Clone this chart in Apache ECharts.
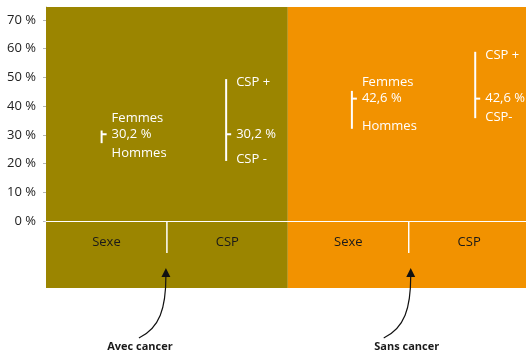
<!DOCTYPE html>
<html>
<head>
<meta charset="utf-8">
<script src="https://cdn.jsdelivr.net/npm/echarts@6/dist/echarts.min.js"></script>
<style>
  html, body { margin: 0; padding: 0; background: #fff; }
  #chart { width: 526px; height: 354px; }
</style>
</head>
<body>
<div id="chart"></div>
<script>
// données
const groups = ['Avec cancer', 'Sans cancer'];
const facets = ['Sexe', 'CSP'];
const groupColors = ['#9b8500', '#f29200'];
const midValues = [30.2, 30.2, 42.6, 42.6];
const highValues = [31.5, 49.4, 45.3, 58.9];
const lowValues = [27.1, 20.9, 32.1, 35.8];
const highLabels = ['Femmes', 'CSP +', 'Femmes', 'CSP +'];
const lowLabels = ['Hommes', 'CSP -', 'Hommes', 'CSP-'];
const yTicks = [0, 10, 20, 30, 40, 50, 60, 70];

// mise en page
const barSlots = [0.46, 1.49, 2.53, 3.55];
const arrowLabelShift = [-26, -4];
const X_MAX = 3.97;
const FONT = '"Open Sans", "DejaVu Sans", sans-serif';

const chart = echarts.init(document.getElementById('chart'));

function fmt(v) {
	return String(v).replace('.', ',') + ' %';
}

function renderPanels(params, api) {
	const g = params.dataIndex;
	const p0 = api.coord([g * 2, api.value(2)]);
	const p1 = api.coord([g * 2 + 2, 0]);
	return {
		type: 'rect',
		shape: { x: p0[0], y: p0[1], width: p1[0] - p0[0], height: p1[1] - p0[1] },
		style: { fill: groupColors[g] }
	};
}

function renderBands(params, api) {
	const g = params.dataIndex;
	const top = api.coord([g * 2, 1]);
	const bottom = api.coord([g * 2 + 2, 0]);
	const mid = api.coord([g * 2 + 1, 1]);
	const children = [
		{ type: 'rect', shape: { x: top[0], y: top[1], width: bottom[0] - top[0], height: bottom[1] - top[1] }, style: { fill: groupColors[g] } },
		{ type: 'line', shape: { x1: mid[0], y1: top[1], x2: mid[0], y2: top[1] + 32 }, style: { stroke: '#fff', lineWidth: 1.5 } }
	];
	facets.forEach(function (f, k) {
		const c = api.coord([g * 2 + k + 0.5, 1]);
		children.push({
			type: 'text',
			style: { text: f, x: c[0], y: c[1] + 21, fill: '#1a1a1a', font: '13px ' + FONT, align: 'center', verticalAlign: 'middle' }
		});
	});
	return { type: 'group', children: children };
}

function renderRange(params, api) {
	const i = params.dataIndex;
	const x = api.coord([api.value(0), 0])[0];
	const yLo = api.coord([0, api.value(1)])[1];
	const yHi = api.coord([0, api.value(2)])[1];
	const yMid = api.coord([0, api.value(3)])[1];
	const yTop = Math.min(yHi + 3, yMid - 16);
	const yBot = Math.max(yLo - 2, yMid + 19);
	const txt = { fill: '#fff', font: '13px ' + FONT, align: 'left', verticalAlign: 'middle' };
	return {
		type: 'group',
		children: [
			{ type: 'rect', shape: { x: x - 1, y: yHi, width: 2, height: yLo - yHi }, style: { fill: '#fff' } },
			{ type: 'rect', shape: { x: x, y: yMid - 1, width: 5, height: 2 }, style: { fill: '#fff' } },
			{ type: 'text', style: Object.assign({ text: highLabels[i], x: x + 10, y: yTop }, txt) },
			{ type: 'text', style: Object.assign({ text: fmt(api.value(3)), x: x + 10, y: yMid }, txt) },
			{ type: 'text', style: Object.assign({ text: lowLabels[i], x: x + 10, y: yBot }, txt) }
		]
	};
}

const rangeData = midValues.map(function (m, i) {
	return [barSlots[i], lowValues[i], highValues[i], m];
});

let option = {
	backgroundColor: '#fff',
	animation: false,
	grid: [
		{ left: 46, right: 0, top: 7, height: 214 },
		{ left: 46, right: 0, top: 221, height: 67 }
	],
	xAxis: [
		{
			gridIndex: 0, type: 'value', min: 0, max: X_MAX, z: 10,
			axisLine: { show: true, lineStyle: { color: '#fff', width: 1 } },
			axisTick: { show: false }, axisLabel: { show: false }, splitLine: { show: false }
		},
		{ gridIndex: 1, type: 'value', min: 0, max: X_MAX, show: false }
	],
	yAxis: [
		{
			gridIndex: 0, type: 'value', min: 0, max: 74.5, interval: 10, offset: 3,
			axisLine: { show: true, lineStyle: { color: '#b4b4b4' } },
			axisTick: { show: true, length: 3, customValues: yTicks, lineStyle: { color: '#b4b4b4' } },
			axisLabel: {
				customValues: yTicks, margin: 7, color: '#222', fontSize: 13, fontFamily: FONT,
				formatter: function (v) { return v % 10 === 0 ? v + ' %' : ''; }
			},
			splitLine: { show: false }
		},
		{ gridIndex: 1, type: 'value', min: 0, max: 1, show: false }
	],
	series: [
		{
			type: 'custom', name: 'fond', xAxisIndex: 0, yAxisIndex: 0, z: 1,
			renderItem: renderPanels,
			data: groups.map(function (g, k) { return [k * 2, k * 2 + 2, 74.5]; })
		},
		{
			type: 'custom', name: 'bandeau', xAxisIndex: 1, yAxisIndex: 1, z: 1,
			renderItem: renderBands,
			data: groups.map(function (g, k) { return [k * 2, k * 2 + 2, 1]; })
		},
		{
			type: 'custom', name: 'écarts', xAxisIndex: 0, yAxisIndex: 0, z: 5,
			renderItem: renderRange,
			encode: { x: 0, y: [1, 2] },
			data: rangeData
		}
	]
};
chart.setOption(option);

// flèches et libellés sous le graphique
const graphics = [];
groups.forEach(function (name, g) {
	const p = chart.convertToPixel({ xAxisIndex: 1, yAxisIndex: 1 }, [g * 2 + 1, 0]);
	const x = p[0] - 1 + g * 3;
	const tipY = p[1] - 20;
	graphics.push({
		type: 'polygon', z: 100,
		shape: { points: [[x, tipY], [x - 4.5, tipY + 9], [x + 4.5, tipY + 9]] },
		style: { fill: '#111' }
	});
	graphics.push({
		type: 'bezierCurve', z: 100,
		shape: { x1: x, y1: tipY + 8, cpx1: x, cpy1: tipY + 40, cpx2: x - 6, cpy2: tipY + 60, x2: x - 27, y2: tipY + 70 },
		style: { stroke: '#111', lineWidth: 1.2, fill: null }
	});
	graphics.push({
		type: 'text', z: 100,
		style: { text: name, x: x + arrowLabelShift[g], y: tipY + 79, fill: '#1a1a1a', font: 'bold 11px ' + FONT, align: 'center', verticalAlign: 'middle' }
	});
});
chart.setOption({ graphic: graphics });
</script>
</body>
</html>
